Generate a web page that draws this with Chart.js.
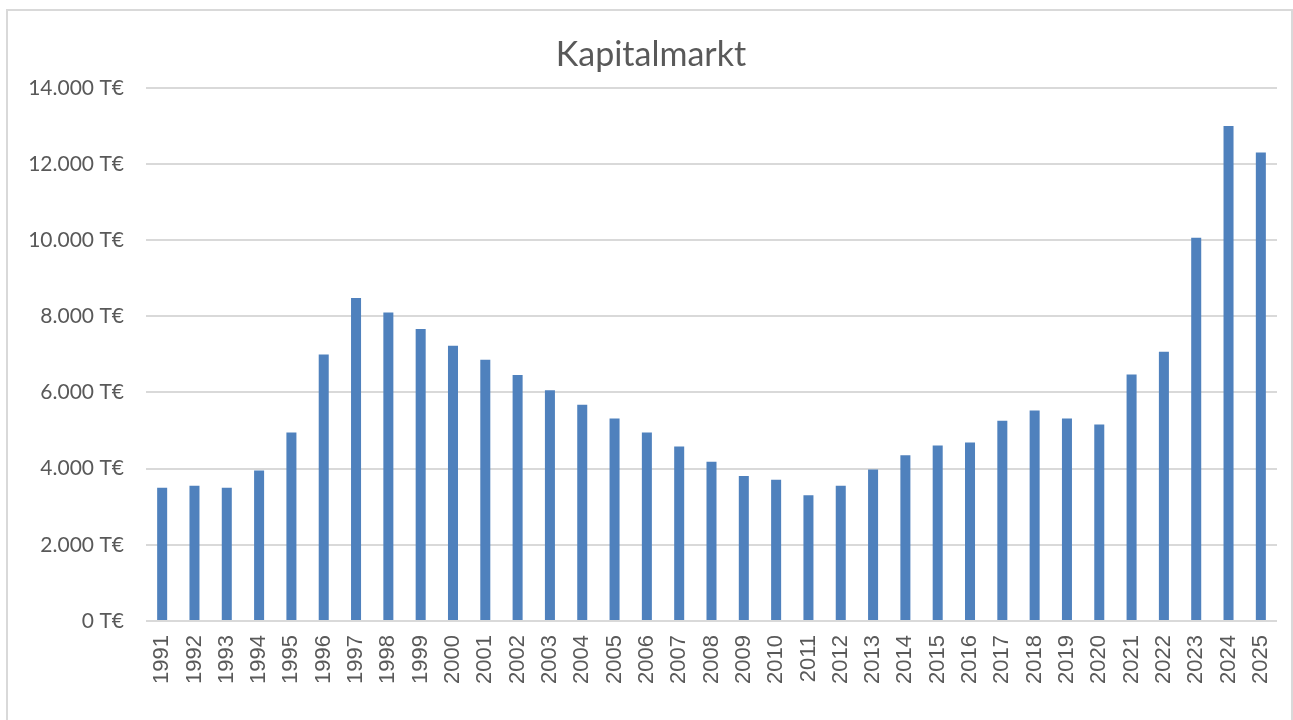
<!DOCTYPE html>
<html>
<head>
<meta charset="utf-8">
<script src="https://cdn.jsdelivr.net/npm/chart.js@4.4.1/dist/chart.umd.min.js"></script>
<style>
  html, body { margin: 0; padding: 0; background: #ffffff; }
  body { width: 1293px; height: 720px; overflow: hidden; position: relative; }
  #frame { position: absolute; left: 6px; top: 9px; width: 1287px; height: 720px; border: 2px solid #d9d9d9; box-sizing: border-box; }
  #wrap { position: absolute; left: 0; top: 0; width: 1293px; height: 720px; }
</style>
</head>
<body>
<div id="frame"></div>
<div id="wrap"><canvas id="c" width="1293" height="720"></canvas></div>
<script>
const years = ["1991","1992","1993","1994","1995","1996","1997","1998","1999","2000",
  "2001","2002","2003","2004","2005","2006","2007","2008","2009","2010",
  "2011","2012","2013","2014","2015","2016","2017","2018","2019","2020",
  "2021","2022","2023","2024","2025"];
const kapitalmarkt = [3500, 3550, 3500, 3950, 4950, 7000, 8480, 8100, 7670, 7230,
  6860, 6460, 6060, 5680, 5320, 4950, 4580, 4180, 3810, 3710,
  3300, 3550, 3980, 4350, 4610, 4690, 5260, 5530, 5320, 5160,
  6470, 7070, 10060, 13000, 12300];
const yTicks = [0, 2000, 4000, 6000, 8000, 10000, 12000, 14000];
const chartTitle = "Kapitalmarkt";
const unit = "T€";

function fmt(v) {
  const s = Math.round(v).toString().replace(/\B(?=(\d{3})+(?!\d))/g, ".");
  return s + " " + unit;
}

new Chart(document.getElementById('c'), {
  type: 'bar',
  data: {
    labels: years,
    datasets: [{
      label: chartTitle,
      data: kapitalmarkt,
      backgroundColor: '#4f81bd',
      borderWidth: 0,
      barPercentage: 0.31,
      categoryPercentage: 1.0
    }]
  },
  options: {
    responsive: false,
    animation: false,
    devicePixelRatio: 1,
    layout: { padding: { left: 25, right: 16, top: 0, bottom: 0 } },
    plugins: {
      legend: { display: false },
      tooltip: { enabled: false },
      title: {
        display: true,
        text: chartTitle,
        color: '#595959',
        font: { family: 'Lato', size: 34, weight: 'normal' },
        padding: { top: 35, bottom: 12 }
      }
    },
    scales: {
      x: {
        grid: { display: false, drawTicks: false },
        border: { display: false },
        ticks: {
          color: '#595959',
          font: { family: 'Liberation Sans', size: 22 },
          minRotation: 90, maxRotation: 90,
          padding: 14,
          autoSkip: false
        },
        afterFit: (s) => { s.height = 99; s.paddingLeft = 0; s.paddingRight = 0; }
      },
      y: {
        min: 0, max: 14000,
        afterBuildTicks: (s) => { s.ticks = yTicks.map(v => ({ value: v })); },
        grid: { color: '#d9d9d9', lineWidth: 2, drawTicks: false },
        border: { display: false },
        ticks: {
          color: '#595959',
          font: { family: 'Lato', size: 21 },
          padding: 22,
          callback: (v) => fmt(v)
        },
        afterFit: (s) => { s.width = 121; s.paddingTop = 0; s.paddingBottom = 0; }
      }
    }
  }
});
</script>
</body>
</html>
